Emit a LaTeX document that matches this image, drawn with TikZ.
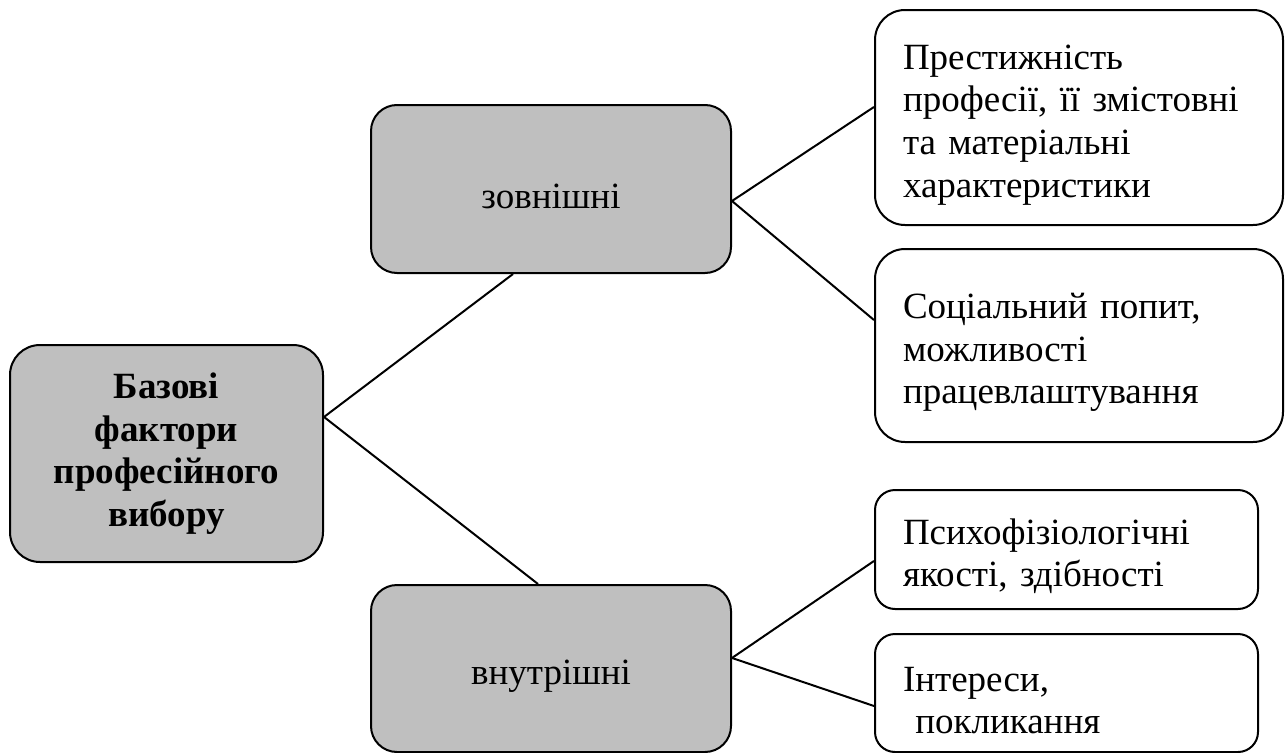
\documentclass[tikz,border=0pt]{standalone}
\usepackage{fontspec}
\setmainfont{Liberation Serif}

\tikzset{every picture/.style={line width=1.5pt}}
\tikzset{
  boxtext/.style={font=\fontsize{27.75}{31.9}\selectfont,
    execute at begin node={\rule{0pt}{29.5pt}}},
  greybox/.style={draw, fill=black!25, align=center, inner sep=0pt, boxtext},
  whitebox/.style={draw, fill=white, align=left, inner xsep=21pt, inner ysep=0pt, boxtext},
}

\begin{document}
\begin{tikzpicture}[x=0.75pt,y=0.75pt,yscale=-1,xscale=1]
\useasboundingbox (0,0) rectangle (1286,753);
%Shape: Rounded Rect, main factor
\node (base) [greybox, rounded corners=22.5pt, minimum width=234.75pt, minimum height=162.75pt] at (166.5,453.5) {\bfseries Базові\\\bfseries фактори\\\bfseries професійного\\\bfseries вибору};
%Shape: Rounded Rect, outer
\node (outer) [greybox, rounded corners=19.5pt, minimum width=270pt, minimum height=126pt] at (551,189) {зовнішні};
%Shape: Rounded Rect, inner
\node (inner) [greybox, rounded corners=19.5pt, minimum width=270pt, minimum height=125.25pt] at (551,668.5) {внутрішні};
%Shape: Rounded Rect, outer factors
\node (prestige) [whitebox, rounded corners=22.5pt, text width=264pt, minimum height=161.25pt] at (1079,117.5) {Престижність\\професії, її змістовні\\та матеріальні\\характеристики};
\node (demand) [whitebox, rounded corners=22.5pt, text width=264pt, minimum height=144.75pt] at (1079,345.5) {Соціальний попит,\\можливості\\працевлаштування};
%Shape: Rounded Rect, inner factors
\node (ability) [whitebox, rounded corners=15pt, text width=245.25pt, minimum height=89.25pt] at (1066.5,549.5) {Психофізіологічні\\якості, здібності};
\node (interest) [whitebox, rounded corners=15pt, text width=245.25pt, minimum height=88.5pt] at (1066.5,693) {Інтереси,\\\ покликання};

%Straight Lines
\draw ([yshift=-27.4pt]base.east) -- ([xshift=-28.5pt]outer.south);
\draw ([yshift=-27.4pt]base.east) -- ([xshift=-9.75pt]inner.north);
\draw ([yshift=9pt]outer.east) -- ([yshift=-7.9pt]prestige.west);
\draw ([yshift=9pt]outer.east) -- ([yshift=-19.1pt]demand.west);
\draw ([yshift=-7.9pt]inner.east) -- ([yshift=8.6pt]ability.west);
\draw ([yshift=-7.9pt]inner.east) -- ([yshift=9.75pt]interest.west);

\end{tikzpicture}
\end{document}
